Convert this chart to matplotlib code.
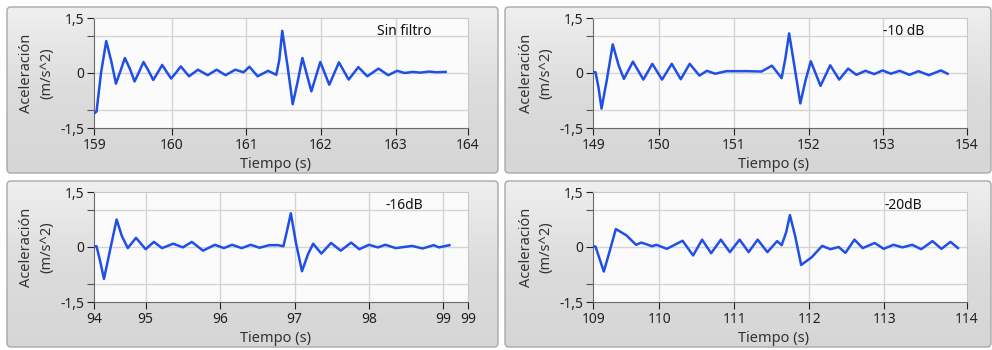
import matplotlib
matplotlib.use("Agg")
import matplotlib.pyplot as plt
import numpy as np
from matplotlib.colors import LinearSegmentedColormap
from matplotlib.patches import FancyBboxPatch

plt.rcParams["font.family"] = ["Noto Sans", "DejaVu Sans"]

# --- data (time s, acceleration m/s^2) ---
t_sin = [158.96, 158.99, 159.05, 159.12, 159.19, 159.25, 159.31, 159.37, 159.44, 159.50,
         159.56, 159.62, 159.69, 159.75, 159.81, 159.87, 159.93, 159.99, 160.06, 160.12,
         160.23, 160.35, 160.48, 160.60, 160.72, 160.85, 160.96, 161.04, 161.15, 161.29,
         161.40, 161.44, 161.48, 161.55, 161.62, 161.69, 161.75, 161.81, 161.87, 161.93,
         161.99, 162.11, 162.24, 162.37, 162.50, 162.62, 162.77, 162.90, 163.02, 163.12,
         163.23, 163.33, 163.45, 163.54, 163.67]
a_sin = [-1.10, -1.05, 0.0, 0.87, 0.30, -0.29, 0.05, 0.41, 0.10, -0.23,
         0.03, 0.30, 0.05, -0.19, 0.01, 0.22, 0.03, -0.15, 0.02, 0.18,
         -0.09, 0.09, -0.06, 0.09, -0.06, 0.09, 0.02, 0.17, -0.09, 0.06,
         -0.05, 0.35, 1.15, 0.20, -0.85, -0.20, 0.41, -0.05, -0.50, -0.10,
         0.30, -0.32, 0.29, -0.18, 0.16, -0.09, 0.12, -0.06, 0.06, 0.0,
         0.03, 0.01, 0.04, 0.02, 0.03]

t_10 = [149.12, 149.15, 149.19, 149.23, 149.30, 149.38, 149.46, 149.53, 149.65, 149.79,
        149.91, 150.04, 150.17, 150.29, 150.41, 150.54, 150.64, 150.75, 150.90, 151.18,
        151.37, 151.51, 151.64, 151.69, 151.74, 151.81, 151.89, 151.96, 152.03, 152.16,
        152.29, 152.41, 152.53, 152.64, 152.76, 152.88, 152.99, 153.10, 153.22, 153.35,
        153.47, 153.61, 153.77, 153.86]
a_10 = [0.02, 0.02, -0.40, -0.97, -0.20, 0.78, 0.20, -0.16, 0.31, -0.18,
        0.25, -0.18, 0.25, -0.17, 0.25, -0.07, 0.06, -0.02, 0.05, 0.05,
        0.04, 0.20, -0.14, 0.40, 1.08, 0.20, -0.83, -0.20, 0.32, -0.35,
        0.21, -0.18, 0.12, -0.05, 0.06, -0.03, 0.07, -0.02, 0.06, -0.05,
        0.05, -0.06, 0.07, -0.02]

t_16 = [94.31, 94.34, 94.39, 94.44, 94.52, 94.61, 94.68, 94.76, 94.87, 95.00,
        95.11, 95.22, 95.37, 95.50, 95.62, 95.77, 95.93, 96.05, 96.16, 96.29,
        96.41, 96.53, 96.66, 96.78, 96.85, 96.90, 96.95, 97.02, 97.10, 97.18,
        97.25, 97.36, 97.49, 97.62, 97.76, 97.87, 98.00, 98.12, 98.22, 98.36,
        98.58, 98.72, 98.87, 98.94, 99.08]
a_16 = [0.02, 0.02, -0.40, -0.87, -0.10, 0.75, 0.30, -0.03, 0.25, -0.06,
        0.14, -0.03, 0.09, -0.01, 0.14, -0.10, 0.06, -0.03, 0.06, -0.03,
        0.06, -0.02, 0.05, 0.05, 0.02, 0.45, 0.92, 0.10, -0.66, -0.20,
        0.09, -0.18, 0.11, -0.10, 0.12, -0.06, 0.06, -0.01, 0.06, -0.03,
        0.03, -0.04, 0.05, -0.01, 0.05]

t_20 = [109.12, 109.15, 109.20, 109.26, 109.34, 109.42, 109.56, 109.69, 109.76, 109.85,
        109.90, 109.96, 110.10, 110.31, 110.45, 110.57, 110.69, 110.82, 110.94, 111.07,
        111.19, 111.31, 111.44, 111.57, 111.63, 111.69, 111.74, 111.81, 111.89, 112.03,
        112.17, 112.28, 112.39, 112.48, 112.60, 112.71, 112.87, 112.99, 113.12, 113.24,
        113.37, 113.49, 113.64, 113.76, 113.88, 113.98]
a_20 = [0.02, 0.01, -0.30, -0.67, -0.10, 0.49, 0.32, 0.06, 0.12, 0.06,
        0.02, 0.06, -0.05, 0.17, -0.23, 0.20, -0.17, 0.20, -0.14, 0.20,
        -0.14, 0.20, -0.14, 0.16, 0.05, 0.40, 0.87, 0.30, -0.49, -0.28,
        0.03, -0.06, 0.00, -0.16, 0.20, -0.03, 0.11, -0.05, 0.06, -0.01,
        0.06, -0.06, 0.16, -0.05, 0.14, -0.03]

panels = [
    # (time, accel, xlim, ticks, ticklabels, note)
    (t_sin, a_sin, (158.96, 163.97), [158.96, 160, 161, 162, 163, 163.97],
     ["159", "160", "161", "162", "163", "164"], "Sin filtro"),
    (t_10, a_10, (149.12, 154.12), [149.12, 150, 151, 152, 153, 154.12],
     ["149", "150", "151", "152", "153", "154"], "-10 dB"),
    (t_16, a_16, (94.31, 99.33), [94.31, 95, 96, 97, 98, 99, 99.33],
     ["94", "95", "96", "97", "98", "99", "99"], "-16dB"),
    (t_20, a_20, (109.12, 114.1), [109.12, 110, 111, 112, 113, 114.1],
     ["109", "110", "111", "112", "113", "114"], "-20dB"),
]

W, H = 992, 350
fig = plt.figure(figsize=(W / 100, H / 100), dpi=100)
fig.patch.set_facecolor("white")

# grey panel frames with vertical gradient
bg = fig.add_axes([0, 0, 1, 1], zorder=-5)
bg.set_xlim(0, W)
bg.set_ylim(H, 0)
bg.axis("off")
panel_cmap = LinearSegmentedColormap.from_list("panel", ["#efefef", "#dcdcdc", "#d6d6d6"])
grad = np.linspace(0, 1, 64).reshape(-1, 1)
frames = [(7, 7, 491, 166), (505, 7, 486, 166), (7, 181, 491, 166), (505, 181, 486, 166)]
for (x0, y0, w, h) in frames:
    box = FancyBboxPatch((x0, y0), w, h, boxstyle="round,pad=0,rounding_size=4",
                         fc="none", ec="#a8a8a8", lw=1.0, zorder=3)
    bg.add_patch(box)
    im = bg.imshow(grad, extent=(x0, x0 + w, y0 + h, y0), cmap=panel_cmap,
                   vmin=0, vmax=1, aspect="auto", interpolation="bilinear")
    im.set_clip_path(box)

offsets = [(0, 0), (499, 0), (0, 174), (499, 174)]
line_color = "#1f4fe6"
grid_color = "#d4d4d4"

for (t, a, xlim, ticks, labels, note), (dx, dy) in zip(panels, offsets):
    left, right, top, bottom = 94.3 + dx, 468 + dx, 18 + dy, 128 + dy
    ax = fig.add_axes([left / W, 1 - bottom / H, (right - left) / W, (bottom - top) / H])
    ax.set_facecolor("#fbfbfb")
    ax.set_xlim(*xlim)
    ax.set_ylim(-1.5, 1.5)
    for g in ticks[1:-1]:
        ax.axvline(g, color=grid_color, lw=1.0, zorder=1)
    for g in (-1, 0, 1):
        ax.axhline(g, color=grid_color, lw=1.0, zorder=1)
    ax.plot(t, a, color=line_color, lw=1.8, zorder=3, solid_joinstyle="round")

    ax.set_xticks(ticks)
    ax.set_xticklabels(labels)
    ax.set_yticks([-1.5, 0, 1.5])
    ax.set_yticklabels(["-1,5", "0", "1,5"])
    ax.set_yticks([-1, 1], minor=True)
    ax.tick_params(axis="both", labelsize=10, colors="#222222", length=5, width=0.8,
                   direction="out", pad=2)
    ax.tick_params(axis="y", which="minor", length=5, width=0.8, color="#555555")
    for s in ("top", "right"):
        ax.spines[s].set_color("#c8c8c8")
    for s in ("left", "bottom"):
        ax.spines[s].set_color("#6a6a6a")

    ax.text(0.83, 0.88, note, transform=ax.transAxes, ha="center", va="center",
            fontsize=10, color="#111111")

    # axis titles
    fig.text((27 + dx) / W, 1 - (73 + dy) / H, "Aceleración", rotation=90,
             ha="center", va="center", fontsize=10.5, color="#333333")
    fig.text((47 + dx) / W, 1 - (73 + dy) / H, "(m/s^2)", rotation=90,
             ha="center", va="center", fontsize=10.5, color="#333333")
    fig.text((275 + dx) / W, 1 - (165 + dy) / H, "Tiempo (s)",
             ha="center", va="center", fontsize=10.5, color="#333333")

fig.savefig("out.png", dpi=100)
